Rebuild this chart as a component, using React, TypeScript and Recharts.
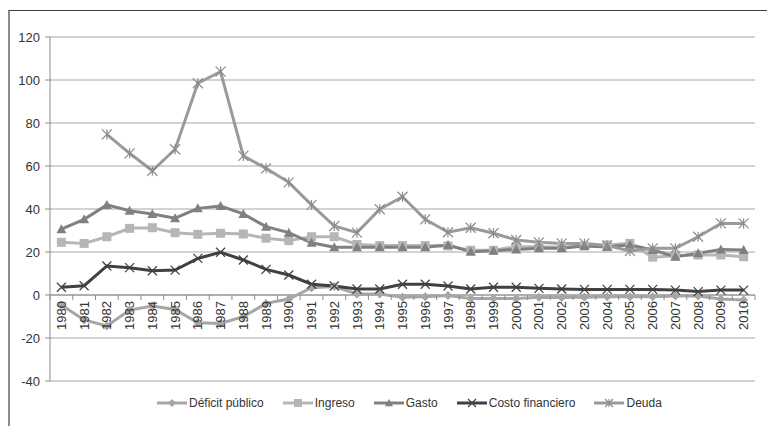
import React from 'react'
import { LineChart, Line, XAxis, YAxis, CartesianGrid, ReferenceLine } from 'recharts'

const years = [
  '1980', '1981', '1982', '1983', '1984', '1985', '1986', '1987', '1988', '1989',
  '1990', '1991', '1992', '1993', '1994', '1995', '1996', '1997', '1998', '1999',
  '2000', '2001', '2002', '2003', '2004', '2005', '2006', '2007', '2008', '2009', '2010',
]

const deficit = [
  -4.7, -11.6, -14.4, -7, -5.1, -6.7, -12.9, -13.2, -10.1, -3.9,
  -1.9, 3.4, 3.9, 0.5, 0.5, -1.1, -0.8, -0.2, -1.6, -1.6,
  -1.6, -1.1, -1.2, -1.1, -0.8, -0.8, -0.8, -0.5, -0.5, -1.9, -2.3,
]
const ingreso = [
  24.5, 24, 27.1, 31, 31.3, 29, 28.2, 28.7, 28.4, 26.4,
  25.3, 27.1, 27.1, 23.5, 23, 23, 23, 22.8, 20.8, 20.8,
  22.5, 22.5, 22.2, 22.8, 23.3, 24, 17.6, 18.2, 18.6, 18.6, 17.8,
]
const gasto = [
  30.6, 35.2, 41.9, 39.2, 37.7, 35.7, 40.3, 41.4, 37.7, 31.8,
  29, 24.3, 22.2, 22.2, 22.2, 22.2, 22.2, 23.3, 20.1, 20.6,
  21.2, 21.7, 21.7, 22.8, 22.3, 23.4, 20.9, 17.8, 19.4, 21.2, 20.9,
]
const costo = [
  3.6, 4.3, 13.5, 12.7, 11.3, 11.6, 17, 19.9, 16.3, 11.9,
  9.3, 5, 4.2, 2.8, 2.8, 5, 5, 4.2, 2.8, 3.6,
  3.6, 3.1, 2.8, 2.6, 2.6, 2.6, 2.6, 2.3, 1.6, 2.3, 2.3,
]
const deuda: (number | null)[] = [
  null, null, 74.7, 65.9, 57.8, 67.8, 98.5, 103.9, 64.7, 58.9,
  52.4, 41.9, 32.1, 29, 39.9, 45.7, 35.2, 29.2, 31.3, 28.7,
  25.6, 24.5, 24, 24, 23, 20.5, 21.7, 21.7, 27.1, 33.3, 33.3,
]

const yTicks = [-40, -20, 0, 20, 40, 60, 80, 100, 120]

const data = years.map((year, i) => ({
  year,
  deficit: deficit[i],
  ingreso: ingreso[i],
  gasto: gasto[i],
  costo: costo[i],
  deuda: deuda[i],
}))

const W = 767
const H = 426
const PLOT_LEFT = 50
const PLOT_RIGHT = 755
const PLOT_TOP = 37
const PLOT_BOTTOM = 381
const Y_MIN = -40
const Y_MAX = 120
const ZERO_Y = PLOT_TOP + ((PLOT_BOTTOM - PLOT_TOP) * Y_MAX) / (Y_MAX - Y_MIN)
const BAND = (PLOT_RIGHT - PLOT_LEFT) / years.length

const C_DEFICIT = '#a6a6a6'
const C_INGRESO = '#b6b6b6'
const C_GASTO = '#808080'
const C_COSTO = '#404040'
const C_DEUDA = '#9a9a9a'

const font = '"Liberation Sans", Arial, sans-serif'

// marker shapes
function Diamond({ cx, cy, color, s = 4.5 }: any) {
  return <path d={`M${cx},${cy - s}L${cx + s},${cy}L${cx},${cy + s}L${cx - s},${cy}Z`} fill={color} />
}
function Square({ cx, cy, color, s = 4.5 }: any) {
  return <rect x={cx - s} y={cy - s} width={s * 2} height={s * 2} fill={color} />
}
function Triangle({ cx, cy, color, s = 5 }: any) {
  return <path d={`M${cx},${cy - s}L${cx + s},${cy + s * 0.8}L${cx - s},${cy + s * 0.8}Z`} fill={color} />
}
function Cross({ cx, cy, color, s = 4.5 }: any) {
  return (
    <path
      d={`M${cx - s},${cy - s}L${cx + s},${cy + s}M${cx - s},${cy + s}L${cx + s},${cy - s}`}
      stroke={color}
      strokeWidth={1.2}
      fill="none"
    />
  )
}
function Star({ cx, cy, color, s = 5 }: any) {
  return (
    <path
      d={`M${cx - s},${cy - s}L${cx + s},${cy + s}M${cx - s},${cy + s}L${cx + s},${cy - s}M${cx},${cy - s}L${cx},${cy + s}`}
      stroke={color}
      strokeWidth={1.2}
      fill="none"
    />
  )
}

const makeDot = (Shape: any, color: string) => (props: any) => {
  const { cx, cy, index } = props
  if (cx == null || cy == null || isNaN(cy)) return <g key={`e-${index}`} />
  return (
    <g key={`m-${index}`}>
      <Shape cx={cx} cy={cy} color={color} />
    </g>
  )
}

const YearTick = (props: any) => {
  const { x, payload } = props
  const last = payload.value === years[years.length - 1]
  return (
    <g>
      <line x1={x - BAND / 2} y1={ZERO_Y} x2={x - BAND / 2} y2={ZERO_Y + 5} stroke="#8c8c8c" />
      {last && <line x1={x + BAND / 2} y1={ZERO_Y} x2={x + BAND / 2} y2={ZERO_Y + 5} stroke="#8c8c8c" />}
      <text
        x={x}
        y={ZERO_Y + 6}
        transform={`rotate(-90 ${x} ${ZERO_Y + 6})`}
        textAnchor="end"
        dy="0.35em"
        fontSize={13}
        fontFamily={font}
        fill="#333"
      >
        {payload.value}
      </text>
    </g>
  )
}

const legendItems = [
  { name: 'Déficit público', color: C_DEFICIT, Shape: Diamond },
  { name: 'Ingreso', color: C_INGRESO, Shape: Square },
  { name: 'Gasto', color: C_GASTO, Shape: Triangle },
  { name: 'Costo financiero', color: C_COSTO, Shape: Cross },
  { name: 'Deuda', color: C_DEUDA, Shape: Star },
]

export default function App() {
  return (
    <div style={{ position: 'absolute', left: 0, top: 0, width: W, height: H, background: '#fff' }}>
      {/* frame */}
      <div
        style={{
          position: 'absolute',
          left: 8,
          top: 10,
          right: 0,
          bottom: 0,
          borderTop: '1px solid #404040',
          borderLeft: '2px solid #8c8c8c',
        }}
      />
      <LineChart
        width={W}
        height={H}
        data={data}
        margin={{ top: PLOT_TOP, right: W - PLOT_RIGHT, bottom: H - PLOT_BOTTOM - 1, left: PLOT_LEFT - 42 }}
        style={{ position: 'absolute', left: 0, top: 0 }}
      >
        <CartesianGrid vertical={false} stroke="#a6a6a6" />
        <XAxis
          dataKey="year"
          height={1}
          axisLine={false}
          tickLine={false}
          interval={0}
          padding={{ left: BAND / 2, right: BAND / 2 }}
          tick={<YearTick />}
        />
        <YAxis
          width={42}
          domain={[Y_MIN, Y_MAX]}
          ticks={yTicks}
          interval={0}
          axisLine={{ stroke: '#8c8c8c' }}
          tickLine={{ stroke: '#8c8c8c' }}
          tickSize={5}
          tickMargin={5}
          tick={{ fontSize: 13, fill: '#333', fontFamily: font }}
        />
        <ReferenceLine y={0} stroke="#8c8c8c" />
        <Line
          dataKey="deficit"
          name="Déficit público"
          stroke={C_DEFICIT}
          strokeWidth={3}
          dot={makeDot(Diamond, C_DEFICIT)}
          isAnimationActive={false}
        />
        <Line
          dataKey="ingreso"
          name="Ingreso"
          stroke={C_INGRESO}
          strokeWidth={3}
          dot={makeDot(Square, C_INGRESO)}
          isAnimationActive={false}
        />
        <Line
          dataKey="gasto"
          name="Gasto"
          stroke={C_GASTO}
          strokeWidth={3}
          dot={makeDot(Triangle, C_GASTO)}
          isAnimationActive={false}
        />
        <Line
          dataKey="costo"
          name="Costo financiero"
          stroke={C_COSTO}
          strokeWidth={3}
          dot={makeDot(Cross, C_COSTO)}
          isAnimationActive={false}
        />
        <Line
          dataKey="deuda"
          name="Deuda"
          stroke={C_DEUDA}
          strokeWidth={3}
          connectNulls={false}
          dot={makeDot(Star, '#8c8c8c')}
          isAnimationActive={false}
        />
      </LineChart>

      {/* Legend */}
      <div
        style={{
          position: 'absolute',
          left: 157,
          top: 396,
          display: 'flex',
          alignItems: 'center',
          gap: 19,
          fontFamily: font,
          fontSize: 12,
          color: '#333',
        }}
      >
        {legendItems.map(({ name, color, Shape }) => (
          <span key={name} style={{ display: 'flex', alignItems: 'center', gap: 2 }}>
            <svg width={30} height={12}>
              <line x1={0} y1={6} x2={30} y2={6} stroke={color} strokeWidth={3} />
              <Shape cx={15} cy={6} color={name === 'Deuda' ? '#8c8c8c' : color} s={4} />
            </svg>
            {name}
          </span>
        ))}
      </div>
    </div>
  )
}
